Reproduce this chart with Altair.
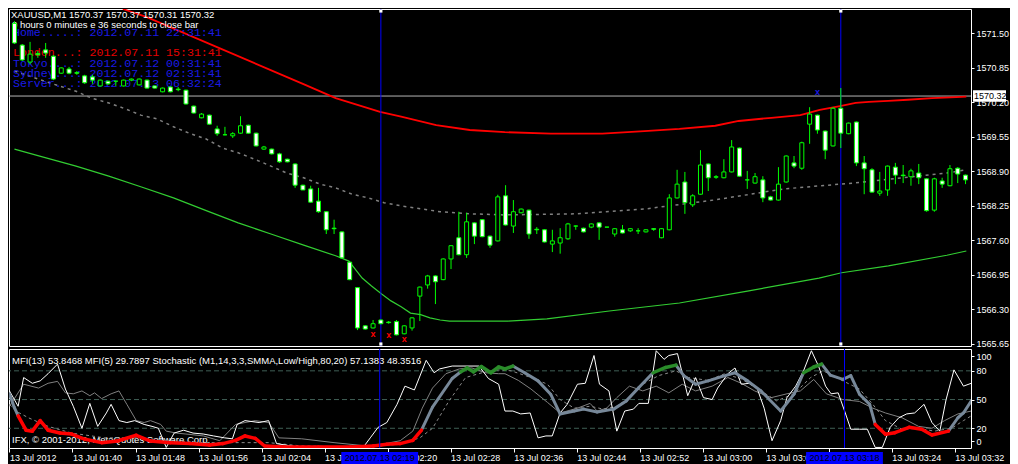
import altair as alt
import pandas as pd

# ---------------- data (bar index 0 = 13 Jul 2012 01:32, one bar per minute) ----------------
opens = [1571.69, 1571.28, 1570.96, 1571.12, 1571.19, 1571.07, 1570.75, 1570.83, 1570.76, 1570.70,
         1570.68, 1570.51, 1570.60, 1570.60, 1570.51, 1570.62, 1570.53, 1570.62, 1570.51, 1570.40,
         1570.49, 1570.45, 1570.43, 1570.13, 1569.91, 1569.96, 1569.70, 1569.59, 1569.57, 1569.62,
         1569.77, 1569.62, 1569.32, 1569.32, 1569.23, 1569.13, 1569.04, 1568.64, 1568.57, 1568.34,
         1568.14, 1567.83, 1567.76, 1567.19, 1566.71, 1565.99, 1565.95, 1566.10, 1566.06, 1566.07,
         1565.84, 1565.95, 1566.55, 1566.76, 1566.93, 1566.86, 1567.25, 1567.65, 1567.33, 1567.93,
         1567.99, 1567.68, 1567.59, 1568.44, 1567.87, 1568.12, 1568.17, 1567.81, 1567.80, 1567.53,
         1567.55, 1567.63, 1567.87, 1567.83, 1567.85, 1567.93, 1567.85, 1567.72, 1567.80, 1567.78,
         1567.78, 1567.76, 1567.82, 1567.65, 1567.80, 1568.40, 1568.70, 1568.27, 1568.47, 1569.04,
         1568.79, 1568.78, 1568.89, 1569.34, 1568.74, 1568.68, 1568.74, 1568.42, 1568.36, 1568.70,
         1569.06, 1568.96, 1569.79, 1569.96, 1569.66, 1569.38, 1570.09, 1569.61, 1569.83, 1569.06,
         1568.93, 1568.49, 1568.55, 1568.98, 1568.83, 1568.80, 1568.87, 1568.76, 1568.17, 1568.72,
         1568.63, 1568.96, 1568.83]
highs = [1571.73, 1571.30, 1571.34, 1571.17, 1571.32, 1571.09, 1570.86, 1570.87, 1570.79, 1570.72,
         1570.72, 1570.63, 1570.61, 1570.60, 1570.63, 1570.65, 1570.65, 1570.63, 1570.52, 1570.48,
         1570.50, 1570.49, 1570.44, 1570.14, 1570.00, 1569.97, 1569.76, 1569.74, 1569.64, 1569.94,
         1569.78, 1569.63, 1569.38, 1569.33, 1569.25, 1569.14, 1569.05, 1568.65, 1568.63, 1568.59,
         1568.15, 1567.99, 1567.77, 1567.20, 1566.72, 1566.00, 1566.10, 1566.11, 1566.08, 1566.10,
         1566.00, 1566.15, 1566.73, 1566.95, 1566.94, 1567.26, 1567.51, 1568.14, 1568.12, 1567.94,
         1568.00, 1567.69, 1568.46, 1568.64, 1568.36, 1568.20, 1568.18, 1567.85, 1567.81, 1567.80,
         1567.83, 1567.93, 1567.88, 1567.84, 1567.92, 1567.94, 1567.85, 1567.83, 1567.89, 1567.83,
         1567.83, 1567.81, 1567.83, 1567.83, 1568.47, 1568.93, 1568.89, 1568.47, 1569.30, 1569.05,
         1568.83, 1569.13, 1569.49, 1569.35, 1568.91, 1568.87, 1568.81, 1568.44, 1568.98, 1569.20,
         1569.19, 1569.46, 1570.11, 1569.97, 1569.67, 1570.11, 1570.47, 1569.82, 1569.84, 1569.19,
         1568.96, 1568.89, 1569.01, 1569.06, 1569.02, 1568.95, 1569.04, 1568.77, 1568.78, 1568.78,
         1569.02, 1568.98, 1568.84]
lows = [1571.30, 1570.98, 1570.92, 1571.04, 1571.04, 1570.62, 1570.74, 1570.73, 1570.72, 1570.55,
        1570.55, 1570.50, 1570.53, 1570.51, 1570.50, 1570.60, 1570.52, 1570.46, 1570.46, 1570.39,
        1570.39, 1570.41, 1570.16, 1569.99, 1569.90, 1569.78, 1569.57, 1569.58, 1569.53, 1569.61,
        1569.61, 1569.37, 1569.31, 1569.22, 1569.06, 1569.07, 1568.59, 1568.55, 1568.31, 1568.12,
        1567.72, 1567.72, 1567.26, 1566.85, 1565.91, 1565.92, 1565.94, 1566.02, 1566.03, 1565.81,
        1565.83, 1565.90, 1566.08, 1566.69, 1566.40, 1566.85, 1567.06, 1567.32, 1567.27, 1567.53,
        1567.66, 1567.46, 1567.58, 1567.88, 1567.74, 1568.11, 1567.63, 1567.72, 1567.56, 1567.38,
        1567.35, 1567.61, 1567.80, 1567.75, 1567.83, 1567.61, 1567.85, 1567.67, 1567.73, 1567.76,
        1567.72, 1567.75, 1567.78, 1567.64, 1567.79, 1568.39, 1568.10, 1568.23, 1568.46, 1568.53,
        1568.76, 1568.77, 1568.88, 1568.80, 1568.57, 1568.67, 1568.32, 1568.35, 1568.35, 1568.69,
        1568.96, 1568.93, 1569.42, 1569.61, 1569.13, 1569.37, 1569.34, 1569.60, 1569.00, 1568.47,
        1568.50, 1568.44, 1568.44, 1568.66, 1568.68, 1568.63, 1568.66, 1568.14, 1568.14, 1568.59,
        1568.62, 1568.68, 1568.66]
closes = [1571.32, 1571.00, 1571.11, 1571.10, 1571.13, 1570.64, 1570.85, 1570.75, 1570.75, 1570.57,
          1570.62, 1570.62, 1570.55, 1570.60, 1570.62, 1570.64, 1570.64, 1570.47, 1570.47, 1570.47,
          1570.40, 1570.44, 1570.17, 1570.00, 1569.98, 1569.79, 1569.61, 1569.59, 1569.61, 1569.76,
          1569.62, 1569.38, 1569.36, 1569.23, 1569.08, 1569.08, 1568.64, 1568.55, 1568.32, 1568.14,
          1567.80, 1567.82, 1567.27, 1566.86, 1565.95, 1565.93, 1566.03, 1566.03, 1566.05, 1565.82,
          1565.99, 1566.14, 1566.72, 1566.93, 1566.82, 1567.25, 1567.50, 1567.33, 1567.95, 1567.68,
          1567.67, 1567.51, 1568.42, 1567.89, 1568.14, 1568.19, 1567.72, 1567.80, 1567.57, 1567.59,
          1567.65, 1567.91, 1567.87, 1567.76, 1567.91, 1567.85, 1567.85, 1567.82, 1567.74, 1567.82,
          1567.78, 1567.80, 1567.81, 1567.82, 1568.40, 1568.66, 1568.31, 1568.44, 1569.02, 1568.78,
          1568.80, 1568.89, 1569.36, 1568.81, 1568.74, 1568.80, 1568.40, 1568.36, 1568.66, 1569.19,
          1569.00, 1569.44, 1569.98, 1569.68, 1569.30, 1570.09, 1569.62, 1569.81, 1569.06, 1568.95,
          1568.51, 1568.53, 1569.00, 1568.83, 1568.82, 1568.91, 1568.78, 1568.16, 1568.76, 1568.66,
          1568.95, 1568.85, 1568.74]

# moving averages (bar position, price)
red_k = [13.9, 16.9, 37.0, 41.2, 46.9, 49.6, 54.1, 58.4, 62.9, 68.8, 75.4, 80.8, 85.3, 89.9,
         92.9, 97.1, 100.8, 103.3, 105.9, 107.9, 109.6, 112.1, 114.6, 117.7, 120.8, 122.1]
red_p = [1571.96, 1571.81, 1570.55, 1570.28, 1570.02, 1569.93, 1569.77, 1569.68, 1569.64,
         1569.61, 1569.61, 1569.66, 1569.70, 1569.76, 1569.85, 1569.91, 1569.96, 1570.06, 1570.13,
         1570.19, 1570.21, 1570.23, 1570.25, 1570.28, 1570.30, 1570.31]
green_k = [0, 3.7, 7.9, 12.1, 16.2, 20.4, 24.6, 28.7, 32.9, 37.1, 41.2, 42.9, 44.6, 45.8, 47.1, 48.3,
           49.6, 50.8, 52.1, 53.3, 54.6, 55.8, 63.3, 68.3, 76.3, 85.3, 94.2, 103.2, 106.1, 112.1,
           119.6, 122.1]
green_p = [1569.32, 1569.17, 1569.00, 1568.81, 1568.61, 1568.40, 1568.16, 1567.93, 1567.72, 1567.51,
           1567.31, 1567.21, 1566.89, 1566.74, 1566.59, 1566.46, 1566.35, 1566.23, 1566.20, 1566.14,
           1566.10, 1566.08, 1566.08, 1566.12, 1566.27, 1566.42, 1566.65, 1566.89, 1566.99, 1567.12,
           1567.32, 1567.40]
gray_k = [0, 4.9, 7.9, 9.9, 12.1, 14.2, 16.2, 18.3, 20.4, 22.4, 24.6, 26.7, 28.7, 30.8, 32.9, 34.9,
          37.1, 39.2, 41.2, 43.3, 45.4, 47.4, 49.6, 54.6, 58.7, 62.9, 71.9, 80.8, 89.7, 98.7, 107.6,
          119.6, 122.1]
gray_p = [1570.79, 1570.55, 1570.41, 1570.28, 1570.19, 1570.08, 1569.96, 1569.89, 1569.74, 1569.62,
          1569.51, 1569.34, 1569.25, 1569.13, 1569.00, 1568.87, 1568.78, 1568.66, 1568.59, 1568.47,
          1568.40, 1568.31, 1568.25, 1568.14, 1568.10, 1568.08, 1568.10, 1568.19, 1568.36, 1568.57,
          1568.68, 1568.87, 1568.93]

bid_price = [1570.32]
cross_k = [47, 106]
cross_labels = ["2012.07.13 02:19", "2012.07.13 03:18"]
red_x_k = [46, 48, 50]
red_x_p = [1565.84, 1565.82, 1565.74]
blue_x_k = [103]
blue_x_p = [1570.40]

price_ticks = [1565.65, 1566.30, 1566.95, 1567.60, 1568.25, 1568.90, 1569.55, 1570.20, 1570.85, 1571.50]
time_labels = ["13 Jul 2012", "13 Jul 01:40", "13 Jul 01:48", "13 Jul 01:56", "13 Jul 02:04",
               "13 Jul 02:12", "13 Jul 02:20", "13 Jul 02:28", "13 Jul 02:36", "13 Jul 02:44",
               "13 Jul 02:52", "13 Jul 03:00", "13 Jul 03:08", "13 Jul 03:16", "13 Jul 03:24",
               "13 Jul 03:32"]

# indicator series (bar position, value)
mfi5_k = [0, 1.1, 1.8, 2.9, 3.9, 4.9, 6.1, 7.1, 8.1, 9.2, 10.2, 11.2, 12.3, 12.9, 13.9, 14.9, 15.9,
          17.1, 18.1, 18.9, 19.9, 20.9, 22.1, 23.3, 24.6, 25.9, 27.3, 28.3, 28.9, 29.9, 31.7, 32.9,
          33.9, 35.4, 37.1, 44.9, 45.8, 46.8, 47.9, 49.2, 50.2, 51.4, 52.9, 53.9, 54.6, 56.2, 59.6,
          60.8, 62.1, 62.9, 63.9, 64.9, 66.1, 67.1, 68.1, 68.9, 69.9, 70.8, 72.1, 73.1, 74.2, 74.9,
          76.1, 77.1, 78.1, 79.2, 79.9, 81.1, 82.1, 83.1, 83.7, 84.8, 86.1, 87.1, 88.1, 89.2, 89.9,
          91.2, 92.1, 92.9, 93.9, 94.9, 95.8, 96.8, 97.9, 98.7, 99.8, 100.8, 101.8, 102.7, 103.6,
          104.3, 105.2, 106.1, 106.8, 107.9, 108.9, 109.9, 110.8, 111.8, 112.9, 113.9, 114.9, 116.1,
          117.1, 118.1, 118.9, 119.9, 121.1, 122.1]
mfi5_v = [59, 43, 73, 67, 69.5, 77, 87, 61, 43, 20, 46, 22, 36, 45, 28, 26, 28,
          24, 22, 20, 0, 15, 18, 15, 14, 12, 10, 9, 24, 28, 26, 28,
          4, 2, 0, 0, 10, 21, 26, 45, 64, 60, 91, 78, 82, 85, 85,
          72, 66, 38, 38, 35, 36, 10, 12, 12, 36, 45, 66, 67, 96, 66,
          59, 17, 38, 40, 46, 46, 101, 92, 96, 98, 54, 73, 52, 50, 62,
          77, 83, 66, 67, 62, 41, 7, 28, 52, 64, 80, 101, 85, 64,
          56, 57, 36, 19, 19, 19, 0, 0, 21, 31, 35, 36, 45,
          26, 17, 50, 81, 64, 67]
mfi13_k = [0, 1.8, 3.7, 4.9, 6.1, 7.1, 8.1, 9.2, 10.2, 10.8, 11.7, 12.9, 13.9, 14.9, 16.1, 17.1,
           17.9, 19.2, 19.9, 21.2, 22.4, 24.6, 26.7, 28.7, 29.9, 31.2, 32.9, 34.2, 37.1, 41.2, 45.4,
           47.4, 49.6, 51.2, 52.4, 53.7, 55.4, 57.1, 58.7, 60.4, 62.1, 62.9, 64.6, 66.2, 68.3, 69.9,
           72.1, 73.7, 74.6, 75.8, 77.1, 78.7, 80.4, 82.1, 83.7, 85.4, 87.1, 89.2, 91.2, 92.9, 94.6,
           96.7, 98.7, 100.4, 102.1, 103.7, 105.8, 107.9, 109.6, 111.2, 113.3, 115.4, 117.1, 118.7,
           120.4, 122.1]
mfi13_v = [43, 66, 62, 67, 69, 57, 56, 59, 54, 57, 51, 56, 59, 45, 28, 26,
           28, 24, 17, 15, 14, 12, 7, 24, 26, 28, 26, 10, 9, 5, 1.5,
           3.5, 7, 17, 41, 62, 77, 82, 83, 78, 77, 77, 70, 61, 47, 36,
           41, 46, 38, 41, 52, 64, 59, 64, 57, 66, 59, 64, 73, 67, 59,
           52, 56, 59, 71, 56, 50, 48, 41, 36, 31, 22, 20, 28,
           35, 38]
stoch_k = [0, 0.6, 1.1, 2.1, 2.9, 3.9, 4.9, 6.4, 7.9, 9.6, 11.7, 13.7, 16.1, 17.9, 20.4, 22.9, 25.4,
           27.1, 28.7, 29.9, 31.2, 32.4, 34.9, 39.2, 43.3, 46.2, 47.9, 49.6, 51.2, 52.3, 53.7, 56.2,
           57.3, 58.1, 58.9, 59.9, 61.1, 62.1, 62.9, 63.9, 65.4, 67.1, 68.7, 69.9, 71.7, 72.9, 74.6,
           76.7, 78.3, 79.9, 81.7, 83.3, 84.6, 85.6, 87.1, 88.7, 90.4, 92.1, 93.7, 95.4, 97.9, 99.6,
           100.8, 102.1, 103.1, 104.2, 105.8, 106.8, 107.9, 109.2, 109.9, 111.2, 112.4, 114.2, 115.8,
           117.1, 119.2, 120.4, 121.1, 122.1]
stoch_v = [56, 42, 33, 18, 17, 28, 18, 15, 14, 8.5, 5, 6.7, 12.7, 6.7, 5, 4, 2.5,
           4, 7.4, 12, 9.5, 1.5, 0.4, 0.4, 0.4, 1.5, 3.2, 4, 7.4, 18, 42, 72,
           79, 83, 79, 84.5, 78, 84, 82, 85, 78, 69.5, 55.6, 35, 38, 40, 37,
           40, 48.6, 62.5, 78, 83.5, 86, 75, 66, 69.5, 74, 78, 69.5, 59, 38, 55.6,
           78, 84, 87, 75.5, 71, 75, 55.6, 45, 24, 13.7, 15.4, 21, 19,
           13, 17, 31, 36, 48.6]
stoch_zone = ["n", "n", "r", "r", "r", "r", "r", "r", "r", "r", "r", "r", "r", "r", "r", "r", "r",
              "r", "r", "r", "r", "r", "r", "r", "r", "r", "r", "r", "r", "r", "n", "n",
              "g", "g", "g", "g", "g", "g", "g", "g", "n", "n", "n", "n", "n", "n", "n",
              "n", "n", "n", "g", "g", "g", "n", "n", "n", "n", "n", "n", "n", "n", "n",
              "g", "g", "g", "n", "n", "n", "n", "n", "r", "r", "r", "r", "r",
              "r", "r", "n", "n", "n"]
signal_k = [0, 0.8, 2.4, 4.9, 7.9, 12.1, 16.2, 20.4, 24.6, 28.7, 32.9, 37.1, 45.4, 49.6, 52.1, 53.7,
            55.8, 57.9, 60.4, 62.1, 63.7, 66.2, 68.3, 69.9, 71.7, 73.7, 75.4, 77.1, 78.7, 80.4, 82.4,
            84.6, 86.2, 88.7, 90.8, 92.9, 95.4, 97.4, 99.6, 101.7, 103.3, 105.8, 107.9, 109.6, 111.2,
            113.3, 115.4, 117.4, 119.6, 121.1, 122.1]
signal_v = [45, 38, 31, 22, 15, 10, 10, 7, 5, 5, 5, 1.5, 0.4, 3.5, 10, 20,
            48.6, 73, 79, 81, 80, 73, 66, 50, 41, 43, 40, 43, 52, 66, 75,
            80, 73, 70, 77, 71.5, 59, 48.6, 56, 73, 80, 69.5, 61, 45, 28,
            19, 20, 17, 20, 28, 33]
level_values = [20, 50, 80]
ind_label_ticks = [6.5, 20, 50, 80, 95]

# ---------------- layout / style ----------------
W, H1, H2 = 962, 337, 99
SANS = "Liberation Sans"
MONO = "Liberation Mono"
LIME = "#00ff00"

xscale = alt.Scale(domain=[-0.06, 122.06], nice=False, zero=False)
pscale = alt.Scale(domain=[1565.61, 1571.96], nice=False, zero=False)
iscale = alt.Scale(domain=[-0.6, 102.8], nice=False, zero=False)

paxis = alt.Axis(orient="right", values=price_ticks, format=".2f", title=None, grid=False,
                 domain=False, tickColor="white", tickSize=3, labelPadding=2, labelColor="white",
                 labelFont=SANS, labelFontSize=9, labelOverlap=False, labelFlush=False, zindex=0)
iaxis = alt.Axis(orient="right", values=ind_label_ticks, title=None, grid=False, domain=False,
                 tickColor="white", tickSize=3, labelPadding=2, labelColor="white", labelFont=SANS,
                 labelFontSize=9, labelOverlap=False, labelFlush=False, zindex=0,
                 labelExpr="datum.value < 10 ? '0' : (datum.value > 90 ? '100' : format(datum.value, 'd'))")
lab_js = "[" + ",".join("'" + s + "'" for s in time_labels) + "]"
xaxis = alt.Axis(values=list(range(0, 121, 8)), labelExpr=lab_js + "[round(datum.value / 8)]",
                 title=None, grid=False, domain=False, tickColor="white", tickSize=4, labelPadding=1,
                 labelAlign="left", labelBaseline="top", labelColor="white", labelFont=SANS,
                 labelFontSize=9, labelOverlap=False, labelFlush=False, zindex=0)


def XP(field="k"):
    return alt.X(f"{field}:Q", scale=xscale, axis=None)


def YP(field):
    return alt.Y(f"{field}:Q", scale=pscale, axis=paxis)


def XI(field="k"):
    return alt.X(f"{field}:Q", scale=xscale, axis=xaxis)


def YI(field):
    return alt.Y(f"{field}:Q", scale=iscale, axis=iaxis)


def text_at(txt, px, py, color="white", font=SANS, size=9.5):
    return alt.Chart(pd.DataFrame({"t": [txt]})).mark_text(
        align="left", baseline="middle", color=color, font=font, fontSize=size
    ).encode(x=alt.value(px), y=alt.value(py), text="t:N")


# ---------------- main price panel ----------------
bars = pd.DataFrame({"k": list(range(len(opens))), "open": opens, "high": highs,
                     "low": lows, "close": closes})
bars["dir"] = ["bear" if c < o else "bull" for o, c in zip(opens, closes)]

texts_main = [
    text_at("XAUUSD,M1  1570.37 1570.37 1570.31 1570.32", 2, 6),
    text_at("0 hours 0 minutes e 36 seconds to close bar", 3, 16),
    text_at("Home.....: 2012.07.11 22:31:41", 4, 24, "#1a1ae6", MONO, 11.6),
    text_at("London...: 2012.07.11 15:31:41", 4, 44, "#e60000", MONO, 11.6),
    text_at("Tokyo....: 2012.07.12 00:31:41", 4, 55, "#1a1ae6", MONO, 11.6),
    text_at("Sydney...: 2012.07.12 02:31:41", 4, 65, "#1a1ae6", MONO, 11.6),
    text_at("Server...: 2012.07.13 06:32:24", 4, 75, "#1a1ae6", MONO, 11.6),
]

bid_df = pd.DataFrame({"p": bid_price})
bid_df["lo"] = bid_df["p"] - 0.11
bid_df["hi"] = bid_df["p"] + 0.11

bid_line = alt.Chart(bid_df).mark_rule(color="#b4b4b4", strokeWidth=1).encode(y=YP("p"))
red_ma = alt.Chart(pd.DataFrame({"k": red_k, "p": red_p})).mark_line(
    color="#ff0000", strokeWidth=1.8, clip=True).encode(x=XP(), y=YP("p"))
green_ma = alt.Chart(pd.DataFrame({"k": green_k, "p": green_p})).mark_line(
    color="#32cd32", strokeWidth=1.2, clip=True).encode(x=XP(), y=YP("p"))
gray_ma = alt.Chart(pd.DataFrame({"k": gray_k, "p": gray_p})).mark_line(
    color="#808080", strokeWidth=1.5, strokeDash=[3, 4], clip=True).encode(x=XP(), y=YP("p"))
vlines = alt.Chart(pd.DataFrame({"k": cross_k})).mark_rule(color="#0000ff", strokeWidth=1).encode(x=XP())
wicks = alt.Chart(bars).mark_rule(color=LIME, strokeWidth=1, clip=True).encode(
    x=XP(), y=YP("low"), y2="high:Q")
bodies = alt.Chart(bars).mark_bar(size=4, stroke=LIME, strokeWidth=1, clip=True).encode(
    x=XP(), y=YP("open"), y2="close:Q",
    fill=alt.Fill("dir:N", scale=alt.Scale(domain=["bear", "bull"], range=["#ffffff", "#000000"]),
                  legend=None))
red_x = alt.Chart(pd.DataFrame({"k": red_x_k, "p": red_x_p})).mark_text(
    text="x", color="#ff0000", fontSize=9, fontWeight="bold", font=SANS).encode(x=XP(), y=YP("p"))
blue_x = alt.Chart(pd.DataFrame({"k": blue_x_k, "p": blue_x_p})).mark_text(
    text="x", color="#1a1ae6", fontSize=9, fontWeight="bold", font=SANS).encode(x=XP(), y=YP("p"))
sq_top = alt.Chart(pd.DataFrame({"k": cross_k})).mark_square(
    color="white", size=10, opacity=1, clip=True).encode(x=XP(), y=alt.value(2))
sq_bot = alt.Chart(pd.DataFrame({"k": cross_k})).mark_square(
    color="white", size=10, opacity=1, clip=True).encode(x=XP(), y=alt.value(H1 - 2))
price_box = alt.Chart(bid_df).mark_rect(color="white").encode(
    x=alt.value(W + 2), x2=alt.value(W + 35), y=YP("lo"), y2="hi:Q")
price_txt = alt.Chart(bid_df).mark_text(
    text="1570.32", color="black", align="left", baseline="middle", font=SANS, fontSize=9
).encode(x=alt.value(W + 3), y=YP("p"))

main = alt.layer(
    bid_line, red_ma, green_ma, gray_ma, vlines, *texts_main, wicks, bodies, red_x, blue_x,
    sq_top, sq_bot, price_box, price_txt
).properties(width=W, height=H1)

# ---------------- indicator panel ----------------
seg_rows = []
for i in range(len(stoch_k) - 1):
    z = stoch_zone[i] if stoch_zone[i] == stoch_zone[i + 1] else "n"
    seg_rows.append({"seg": i, "k": stoch_k[i], "v": stoch_v[i], "zone": z, "o": 0})
    seg_rows.append({"seg": i, "k": stoch_k[i + 1], "v": stoch_v[i + 1], "zone": z, "o": 1})
seg_df = pd.DataFrame(seg_rows)
zone_scale = alt.Scale(domain=["n", "r", "g"], range=["#778899", "#ff0000", "#2a8c2a"])

levels = alt.Chart(pd.DataFrame({"v": level_values})).mark_rule(
    color="#3f5f55", strokeWidth=1, strokeDash=[5, 3]).encode(y=YI("v"))
mfi13 = alt.Chart(pd.DataFrame({"k": mfi13_k, "v": mfi13_v})).mark_line(
    color="#808080", strokeWidth=1, clip=True).encode(x=XI(), y=YI("v"))
mfi5 = alt.Chart(pd.DataFrame({"k": mfi5_k, "v": mfi5_v})).mark_line(
    color="#ffffff", strokeWidth=1, clip=True).encode(x=XI(), y=YI("v"))
signal = alt.Chart(pd.DataFrame({"k": signal_k, "v": signal_v})).mark_line(
    color="#8c8c8c", strokeWidth=1, strokeDash=[3, 3], clip=True).encode(x=XI(), y=YI("v"))
stoch_gray = alt.Chart(seg_df).transform_filter("datum.zone == 'n'").mark_line(
    strokeWidth=3, strokeCap="round", clip=True).encode(
    x=XI(), y=YI("v"), detail="seg:N", order="o:Q",
    color=alt.Color("zone:N", scale=zone_scale, legend=None))
stoch_col = alt.Chart(seg_df).transform_filter("datum.zone != 'n'").mark_line(
    strokeWidth=3.5, strokeCap="round", clip=True).encode(
    x=XI(), y=YI("v"), detail="seg:N", order="o:Q",
    color=alt.Color("zone:N", scale=zone_scale, legend=None))
ivlines = alt.Chart(pd.DataFrame({"k": cross_k})).mark_rule(color="#0000ff", strokeWidth=1).encode(x=XI())

cross_df = pd.DataFrame({"k": cross_k, "label": cross_labels})
cross_box = alt.Chart(cross_df).transform_calculate(
    lo="datum.k - 4.875", hi="datum.k + 4.875"
).mark_rect(color="#0000ff").encode(
    x=alt.X("lo:Q", scale=xscale, axis=xaxis), x2="hi:Q",
    y=alt.value(H2 + 4), y2=alt.value(H2 + 16))
cross_txt = alt.Chart(cross_df).mark_text(
    color="black", align="center", baseline="middle", font=SANS, fontSize=9
).encode(x=XI(), y=alt.value(H2 + 10), text="label:N")

ind_text1 = text_at("MFI(13) 53.8468  MFI(5) 29.7897  Stochastic (M1,14,3,3,SMMA,Low/High,80,20) 57.1383 48.3516", 3, 12)
ind_text2 = text_at("IFX, © 2001-2012, MetaQuotes Software Corp.", 3, 91)

ind = alt.layer(
    levels, ind_text1, ind_text2, mfi13, signal, mfi5, stoch_gray, stoch_col, ivlines,
    cross_box, cross_txt
).properties(width=W, height=H2)

chart = alt.vconcat(
    main, ind, spacing=3, bounds="flush", background="#000000", padding=0
).configure_view(stroke="white", strokeWidth=1)

chart.save("out.html", embed_options={"renderer": "svg", "actions": False})
